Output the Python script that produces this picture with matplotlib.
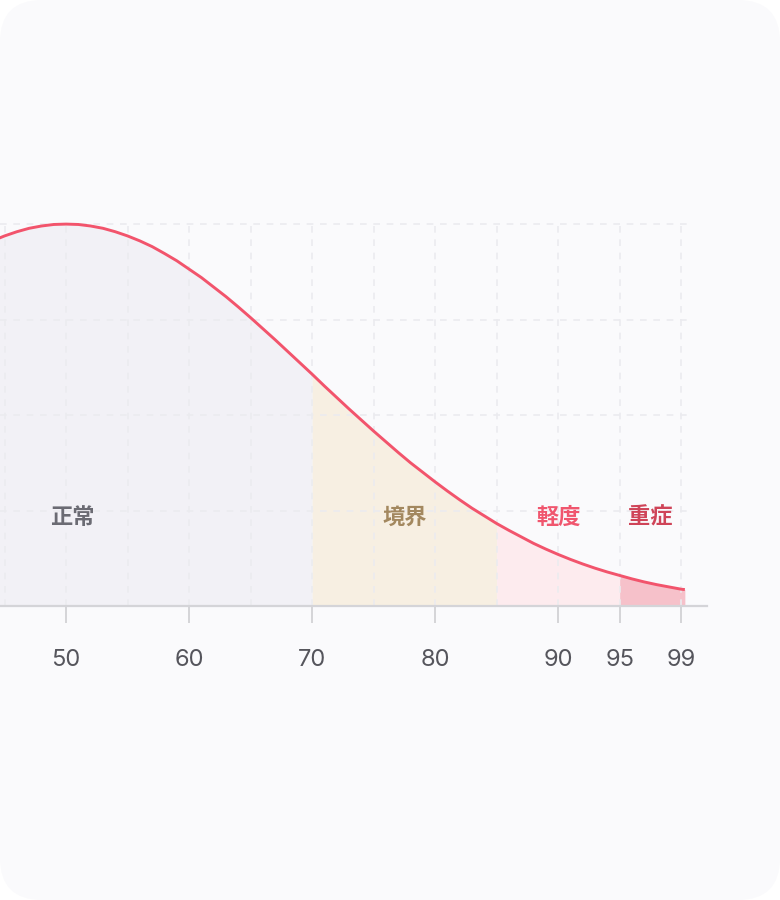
import matplotlib
matplotlib.use("Agg")
import matplotlib.pyplot as plt
from matplotlib.patches import FancyBboxPatch

plt.rcParams["font.family"] = ["Noto Sans CJK JP", "DejaVu Sans"]

# curve values (peak = 1.0)
score = list(range(44, 101)) + [100.3]
density = [
    0.956, 0.969, 0.980, 0.989, 0.995, 0.999, 1.000, 0.999, 0.995, 0.989,
    0.980, 0.969, 0.956, 0.941, 0.923, 0.904, 0.882, 0.860, 0.835, 0.810,
    0.783, 0.755, 0.726, 0.697, 0.667, 0.637, 0.607, 0.576, 0.546, 0.516,
    0.487, 0.458, 0.430, 0.402, 0.375, 0.350, 0.325, 0.301, 0.278, 0.256,
    0.236, 0.216, 0.198, 0.181, 0.164, 0.149, 0.135, 0.122, 0.110, 0.099,
    0.089, 0.080, 0.071, 0.063, 0.056, 0.050, 0.044, 0.043,
]

# bands: name, start, end, label x
band_names = ["正常", "境界", "軽度", "重症"]
band_start = [44, 70, 85, 95]
band_end = [70, 85, 95, 100.3]
band_label_x = [50.5, 77.5, 90, 97.5]
band_fill = ["#f2f1f6", "#f7efe2", "#fdebee", "#f6c1ca"]
band_text = ["#6b6b73", "#a3885f", "#f0566e", "#cf4458"]

tick_pos = [50, 60, 70, 80, 90, 95, 100]
tick_labels = ["50", "60", "70", "80", "90", "95", "99"]
grid_x = list(range(45, 101, 5))
grid_y = [0.25, 0.5, 0.75, 1.0]

W, H = 780, 900
fig = plt.figure(figsize=(W / 100, H / 100), dpi=100)
fig.patch.set_facecolor("white")

# rounded card behind everything
bg = fig.add_axes([0, 0, 1, 1], zorder=-10)
bg.set_xlim(0, W)
bg.set_ylim(0, H)
bg.axis("off")
bg.add_patch(FancyBboxPatch((0, 0), W, H, boxstyle="round,pad=0,rounding_size=42",
                            facecolor="#fafafc", edgecolor="none"))

ax = fig.add_axes([0, 294 / H, 707 / W, 401 / H])
ax.set_facecolor("none")
ax.set_xlim(44.63, 102.1)
ax.set_ylim(0, 1.05)

# dashed grid
ax.hlines(grid_y, 44.63, 101, colors="#ebebef", linestyles=(0, (4, 4)), lw=1.2, zorder=1)
ax.vlines(grid_x, 0, 1.0, colors="#ebebef", linestyles=(0, (4, 4)), lw=1.2, zorder=1)

for name, a, b, lx, fc, tc in zip(band_names, band_start, band_end, band_label_x, band_fill, band_text):
    xs = [x for x in score if a <= x <= b]
    ys = [density[score.index(x)] for x in xs]
    ax.fill_between(xs, 0, ys, color=fc, lw=0, zorder=0.5)
    ax.text(lx, 0.233, name, ha="center", va="center", fontsize=16,
            fontweight="bold", color=tc, zorder=3)

ax.plot(score, density, color="#f2546c", lw=2.1, zorder=2, solid_capstyle="butt")

for s in ["top", "left", "right"]:
    ax.spines[s].set_visible(False)
ax.spines["bottom"].set_color("#d4d4d8")
ax.spines["bottom"].set_linewidth(1.6)
ax.set_yticks([])
ax.set_xticks(tick_pos)
ax.set_xticklabels(tick_labels, fontfamily=["Inter", "DejaVu Sans"])
ax.tick_params(axis="x", length=12, width=1.4, color="#d4d4d8", pad=19,
               labelsize=17, labelcolor="#55555c")

fig.savefig("out.png", dpi=100, facecolor=fig.get_facecolor())
